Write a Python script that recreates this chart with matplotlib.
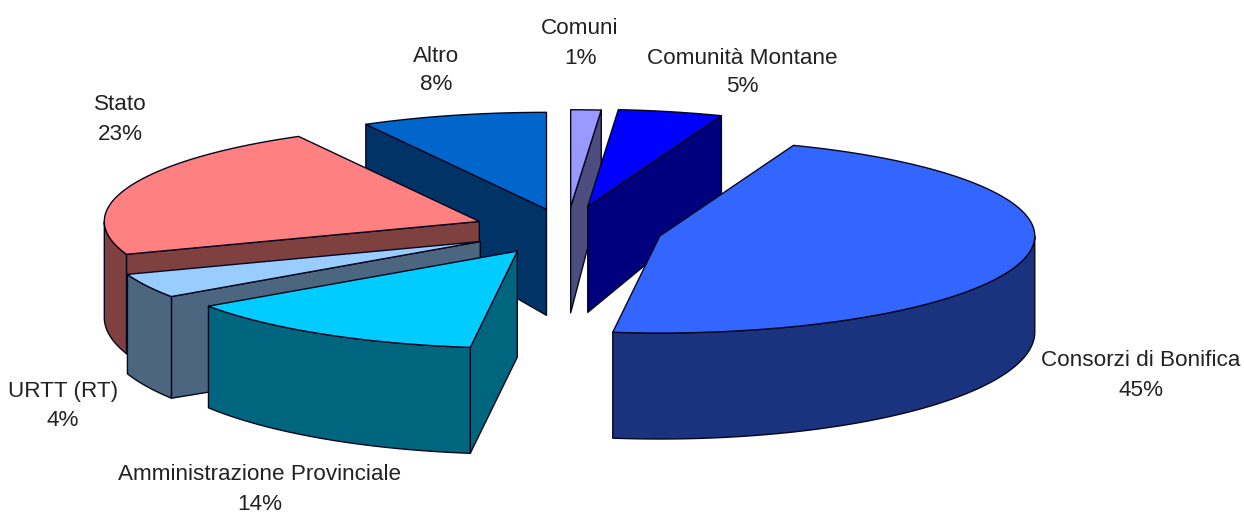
import numpy as np
import matplotlib
matplotlib.use('Agg')
import matplotlib.pyplot as plt
from matplotlib.patches import Polygon

# dati della torta (in senso orario a partire dalle ore 12)
nomi = ['Comuni', 'Comunità Montane', 'Consorzi di Bonifica',
        'Amministrazione Provinciale', 'URTT (RT)', 'Stato', 'Altro']
percentuali = [1, 5, 45, 14, 4, 23, 8]  # come scritte nelle etichette
valori = [1.3, 4.5, 46.2, 13.4, 4.1, 22.5, 8.0]

# stile
colori = ['#9999FF', '#0000FF', '#3366FF', '#00CCFF', '#99CCFF', '#FF8080', '#0066CC']
colori_lato = ['#4C4C7F', '#00007F', '#1A337F', '#00667F', '#4C667F', '#7F4040', '#003366']
esplosione = [0.24, 0.25, 0.255, 0.255, 0.26, 0.25, 0.22]
pos_etichette = [(580, 43), (742, 72), (1141, 375), (260, 489), (63, 406), (120, 119), (436, 70)]

# geometria in pixel
cx, cy = 567, 230
rx, ry = 375, 97

plt.rcParams['font.family'] = ['Liberation Sans', 'DejaVu Sans']
fig = plt.figure(figsize=(12.44, 5.15), dpi=100, facecolor='white')
ax = fig.add_axes([0, 0, 1, 1])
ax.set_xlim(0, 1244)
ax.set_ylim(515, 0)
ax.axis('off')


def punto(x0, y0, a):
    return x0 + rx * np.sin(a), y0 - ry * np.cos(a)


def spessore(a):
    # il bordo dietro è un po' più basso per la prospettiva
    return 96 - 10 * np.cos(a)


def faccia(pts, colore, z):
    ax.add_patch(Polygon(pts, closed=True, facecolor=colore, edgecolor='#06061e',
                         linewidth=1.0, joinstyle='round', zorder=z))


angoli = np.cumsum([0] + valori) / sum(valori) * 2 * np.pi
ordine = [6, 0, 1, 5, 4, 3, 2]  # dal fondo verso il davanti

for z, i in enumerate(ordine):
    a0, a1 = angoli[i], angoli[i + 1]
    m = (a0 + a1) / 2
    x0 = cx + esplosione[i] * rx * np.sin(m)
    y0 = cy - esplosione[i] * ry * np.cos(m)
    arco = np.linspace(a0, a1, 200)
    px_arco, py_arco = punto(x0, y0, arco)
    sopra = list(zip(px_arco, py_arco))

    # pareti radiali: solo quelle rivolte verso chi guarda
    for a, visibile in ((a0, np.sin(a0) < -1e-6), (a1, np.sin(a1) > 1e-6)):
        if visibile:
            px, py = punto(x0, y0, a)
            faccia([(x0, y0), (px, py), (px, py + spessore(a)), (x0, y0 + 106)], colori_lato[i], z * 4)

    # parete esterna: solo la parte davanti
    davanti = np.cos(arco) <= 0
    if davanti.sum() > 1:
        xd, yd, ad = px_arco[davanti], py_arco[davanti], arco[davanti]
        pts = list(zip(xd, yd)) + list(zip(xd[::-1], (yd + spessore(ad))[::-1]))
        faccia(pts, colori_lato[i], z * 4 + 1)

    # faccia superiore
    faccia([(x0, y0)] + sopra, colori[i], z * 4 + 2)

# nome e percentuale come due testi separati, così il 14% resta dentro la figura
for nome, p, (tx, ty) in zip(nomi, percentuali, pos_etichette):
    ax.text(tx, ty - 14, nome, ha='center', va='center', fontsize=16.2, color='#222222', zorder=100)
    ax.text(tx, ty + 15, f'{p}%', ha='center', va='center', fontsize=16.2, color='#222222', zorder=100)

fig.savefig('out.png', dpi=100)
